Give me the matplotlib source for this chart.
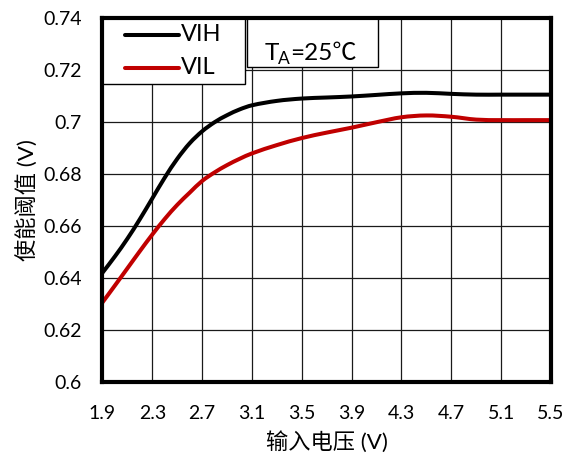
import matplotlib
matplotlib.use("Agg")
import matplotlib.pyplot as plt
from matplotlib.patches import Rectangle, PathPatch
from matplotlib.lines import Line2D
from matplotlib.path import Path

# Input voltage (V) and enable threshold readings (V)
vin = [1.9, 2.0, 2.1, 2.2, 2.3, 2.4, 2.5, 2.6, 2.7, 2.8, 2.9, 3.0, 3.1,
       3.3, 3.5, 3.7, 3.9, 4.1, 4.3, 4.5, 4.7, 4.9, 5.1, 5.3, 5.5]
vih = [0.6419, 0.6482, 0.6550, 0.6625, 0.6705, 0.6785, 0.6857, 0.6917, 0.6963, 0.6998, 0.7025, 0.7047, 0.7063,
       0.7080, 0.7089, 0.7093, 0.7097, 0.7103, 0.7109, 0.7111, 0.7107, 0.7104, 0.7104, 0.7104, 0.7104]
vil = [0.6305, 0.6370, 0.6436, 0.6502, 0.6566, 0.6626, 0.6680, 0.6727, 0.6772, 0.6805, 0.6833, 0.6857, 0.6878,
       0.6910, 0.6937, 0.6958, 0.6977, 0.6998, 0.7017, 0.7024, 0.7019, 0.7008, 0.7006, 0.7006, 0.7006]

xticks = [1.9, 2.3, 2.7, 3.1, 3.5, 3.9, 4.3, 4.7, 5.1, 5.5]
yticks = [0.6, 0.62, 0.64, 0.66, 0.68, 0.7, 0.72, 0.74]
ytick_labels = ["0.6", "0.62", "0.64", "0.66", "0.68", "0.7", "0.72", "0.74"]

FONT = ["Lato", "Noto Sans CJK SC", "DejaVu Sans"]
plt.rcParams["font.family"] = FONT


def smooth_path(x, y):
    """Cubic Hermite path through the points (tangents from neighbours)."""
    n = len(x)
    m = []
    for i in range(n):
        a, b = max(i - 1, 0), min(i + 1, n - 1)
        m.append((y[b] - y[a]) / (x[b] - x[a]))
    verts = [(x[0], y[0])]
    codes = [Path.MOVETO]
    for i in range(n - 1):
        h = x[i + 1] - x[i]
        verts += [(x[i] + h / 3, y[i] + m[i] * h / 3),
                  (x[i + 1] - h / 3, y[i + 1] - m[i + 1] * h / 3),
                  (x[i + 1], y[i + 1])]
        codes += [Path.CURVE4] * 3
    return Path(verts, codes)


fig = plt.figure(figsize=(5.69, 4.57), dpi=100)
ax = fig.add_axes([0.1801, 0.1648, 0.7882, 0.7965])

for ys, col in [(vih, "black"), (vil, "#c00000")]:
    ax.add_patch(PathPatch(smooth_path(vin, ys), facecolor="none", edgecolor=col,
                           lw=2.9, capstyle="round", joinstyle="round", zorder=3))

ax.set_xlim(1.9, 5.5)
ax.set_ylim(0.6, 0.74)
ax.set_xticks(xticks)
ax.set_xticklabels([f"{t:.1f}" for t in xticks])
ax.set_yticks(yticks)
ax.set_yticklabels(ytick_labels)
ax.tick_params(axis="both", length=0, labelsize=14, colors="black")
ax.tick_params(axis="x", pad=17)
ax.tick_params(axis="y", pad=15)
ax.grid(True, color="#1a1a1a", lw=0.9)
ax.set_axisbelow(True)
for s in ax.spines.values():
    s.set_linewidth(3.0)
    s.set_color("black")
    s.set_zorder(5)

ax.set_xlabel("输入电压 (V)", fontsize=16, labelpad=6)
ax.set_ylabel("使能阈值 (V)", fontsize=16, labelpad=3)

# legend box in the upper left corner
ax.add_patch(Rectangle((0, 0.818), 0.318, 0.182, transform=ax.transAxes,
                       facecolor="white", edgecolor="black", lw=1.0, zorder=4))
for y, c, lab in [(0.9525, "black", "VIH"), (0.862, "#c00000", "VIL")]:
    ax.add_line(Line2D([0.05, 0.1705], [y, y], transform=ax.transAxes, color=c,
                       lw=2.9, solid_capstyle="round", zorder=4.5))
    ax.text(0.175, y, lab, transform=ax.transAxes, fontsize=17, va="center",
            ha="left", zorder=4.5)

# temperature box
ax.add_patch(Rectangle((0.3215, 0.8646), 0.2925, 0.1354, transform=ax.transAxes,
                       facecolor="white", edgecolor="black", lw=1.0, zorder=4))
t1 = ax.text(0.3615, 0.884, "T", transform=ax.transAxes, fontsize=17.5,
             va="baseline", ha="left", zorder=4.5)
t2 = ax.annotate("A", xy=(1, 0), xycoords=t1, xytext=(-0.5, -2.5),
                 textcoords="offset points", fontsize=12.5, va="bottom",
                 ha="left", zorder=4.5)
ax.annotate("=25℃", xy=(1, 0), xycoords=(t2, t1), xytext=(0, 0),
            textcoords="offset points", fontsize=17.5, va="bottom", ha="left",
            zorder=4.5)

fig.savefig("out.png", dpi=100)
